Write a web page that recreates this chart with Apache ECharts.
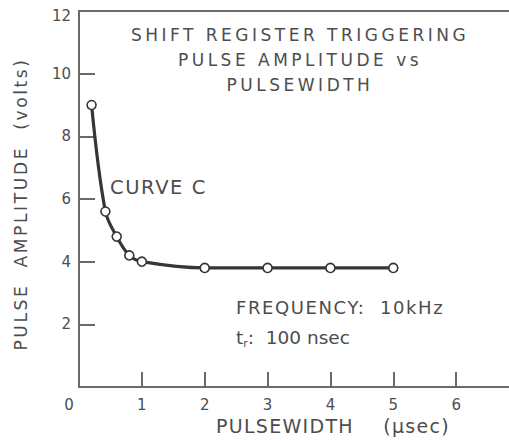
<!DOCTYPE html>
<html>
<head>
<meta charset="utf-8">
<script src="https://cdn.jsdelivr.net/npm/echarts@6/dist/echarts.min.js"></script>
<style>
  html, body { margin: 0; padding: 0; background: #ffffff; }
  #chart { width: 509px; height: 441px; }
  /* wide hand-lettered look for the captions */
  #chart text[style*="17px"] { letter-spacing: 3.5px; }
  #chart text[style*="17.1px"] { letter-spacing: 2.6px; }
  #chart text[style*="18px"] { letter-spacing: 1.6px; }
  #chart text[style*="19px"] { letter-spacing: 1.3px; }
  #chart text[style*="19.5px"] { letter-spacing: 1.6px; }
</style>
</head>
<body>
<div id="chart"></div>
<script>
// Pulse amplitude needed to trigger the shift register, vs pulse width
const pulseWidth = [0.2, 0.42, 0.6, 0.8, 1.0, 2, 3, 4, 5];      // µsec
const amplitude  = [9.0, 5.6, 4.8, 4.2, 4.0, 3.8, 3.8, 3.8, 3.8]; // volts

const xTickValues  = [1, 2, 3, 4, 5, 6];
const xLabelValues = [0, 1, 2, 3, 4, 5, 6];
const yTickValues  = [2, 4, 6, 8, 10];
const yLabelValues = [2, 4, 6, 8, 10, 12];

const titleLines = ['SHIFT REGISTER TRIGGERING', 'PULSE AMPLITUDE vs', 'PULSEWIDTH'];
const curveName = 'CURVE C';
const noteLines = ['FREQUENCY:  10kHz'];

const ink = '#4d4d4d';
const axisInk = '#6a6a6a';
const font = 'DejaVu Sans';

const chart = echarts.init(document.getElementById('chart'), null, { renderer: 'svg' });

chart.setOption({
  backgroundColor: '#ffffff',
  animation: false,
  grid: {
    left: 79, top: 11, width: 440, height: 376,
    outerBoundsMode: 'none', containLabel: false,
    show: true, borderColor: axisInk, borderWidth: 2, backgroundColor: 'transparent'
  },
  xAxis: {
    type: 'value', min: 0, max: 7, interval: 1,
    name: 'PULSEWIDTH    (µsec)',
    nameLocation: 'middle', nameGap: 26,
    nameTextStyle: { color: ink, fontFamily: font, fontSize: 19, padding: [0, 0, 0, 68] },
    axisLine: { show: true, lineStyle: { color: axisInk, width: 2 } },
    axisTick: { show: true, inside: true, length: 15, customValues: xTickValues,
                lineStyle: { color: axisInk, width: 2 } },
    axisLabel: {
      customValues: xLabelValues, margin: 10, color: ink, fontFamily: font, fontSize: 15,
      formatter: v => v === 0 ? '{o|0}' : String(v),
      rich: { o: { color: ink, fontFamily: font, fontSize: 15, padding: [0, 20, 0, 0] } }
    },
    splitLine: { show: false }
  },
  yAxis: {
    type: 'value', min: 0, max: 12, interval: 2,
    name: 'PULSE  AMPLITUDE  (volts)',
    nameLocation: 'middle', nameGap: 50, nameRotate: 90,
    nameTextStyle: { color: ink, fontFamily: font, fontSize: 17.1, padding: [0, 10, 0, 0] },
    axisLine: { show: true, lineStyle: { color: axisInk, width: 2 } },
    axisTick: { show: true, inside: true, length: 16, customValues: yTickValues,
                lineStyle: { color: axisInk, width: 2 } },
    axisLabel: {
      customValues: yLabelValues, margin: 8, color: ink, fontFamily: font, fontSize: 15,
      formatter: v => v === 12 ? '{top|12}' : String(v),
      rich: { top: { color: ink, fontFamily: font, fontSize: 15, padding: [10, 0, 0, 0] } }
    },
    splitLine: { show: false }
  },
  graphic: [
    {
      type: 'text', x: 300, y: 22,
      style: {
        text: titleLines.join('\n'), fill: ink, font: '17px "' + font + '"',
        align: 'center', textAlign: 'center', lineHeight: 25
      }
    },
    {
      type: 'text', left: 110, top: 177,
      style: { text: curveName, fill: ink, font: '19.5px "' + font + '"' }
    },
    {
      type: 'text', left: 236, top: 298,
      style: { text: noteLines[0], fill: ink, font: '18px "' + font + '"' }
    },
    {
      type: 'text', left: 236, top: 328,
      style: {
        text: '{t|t}{s|r}{t|:  100 nsec}',
        rich: {
          t: { fill: ink, font: '18.5px "' + font + '"' },
          s: { fill: ink, font: '11px "' + font + '"', padding: [11, 0, 0, 0] }
        }
      }
    }
  ],
  series: [{
    type: 'line',
    data: pulseWidth.map((x, i) => [x, amplitude[i]]),
    smooth: 0.35,
    symbol: 'circle', symbolSize: 9,
    itemStyle: { color: '#ffffff', borderColor: '#363636', borderWidth: 1.6 },
    lineStyle: { color: '#363636', width: 3.2 },
    z: 3
  }]
});
</script>
</body>
</html>
